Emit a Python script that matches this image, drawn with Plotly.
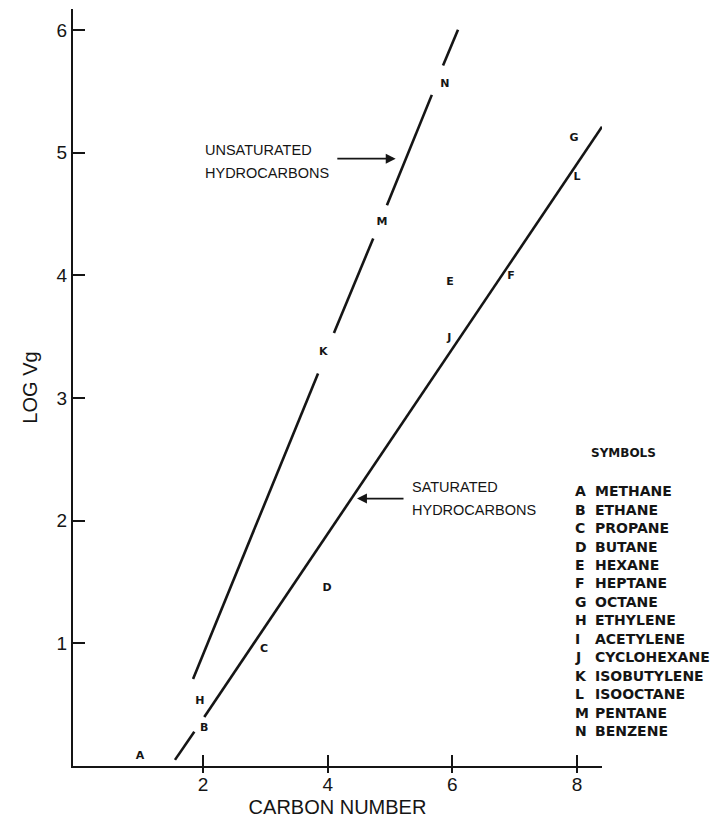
import plotly.graph_objects as go

# Compound symbols and where each letter sits (carbon number, log Vg)
symbols = ["A", "B", "C", "D", "E", "F", "G", "H", "J", "K", "L", "M", "N"]
carbon = [0.99, 2.02, 2.98, 3.99, 5.96, 6.94, 7.95, 1.95, 5.95, 3.93, 8.00, 4.87, 5.88]
log_vg = [0.08, 0.31, 0.95, 1.45, 3.94, 3.99, 5.12, 0.53, 3.49, 3.37, 4.80, 4.43, 5.56]

# Saturated hydrocarbons trend line (broken around label B)
sat_x = [1.55, 1.86, None, 2.02, 8.40]
sat_y = [0.05, 0.28, None, 0.40, 5.21]

# Unsaturated hydrocarbons trend line (broken around labels K, M, N)
unsat_x = [1.84, 3.845, None, 4.10, 4.73, None, 4.95, 5.67, None, 5.85, 6.09]
unsat_y = [0.71, 3.20, None, 3.53, 4.30, None, 4.57, 5.47, None, 5.71, 6.00]

# Key
key_letters = ["A", "B", "C", "D", "E", "F", "G", "H", "I", "J", "K", "L", "M", "N"]
key_names = ["METHANE", "ETHANE", "PROPANE", "BUTANE", "HEXANE", "HEPTANE", "OCTANE",
             "ETHYLENE", "ACETYLENE", "CYCLOHEXANE", "ISOBUTYLENE", "ISOOCTANE",
             "PENTANE", "BENZENE"]

x_ticks = [2, 4, 6, 8]
y_ticks = [1, 2, 3, 4, 5, 6]
x_range = [-0.086, 8.40]
y_range = [0, 6.17]

INK = "#151515"
SANS = "Liberation Sans, Arial, sans-serif"
BOLD = "DejaVu Sans, sans-serif"

fig = go.Figure()

fig.add_trace(go.Scatter(x=sat_x, y=sat_y, mode="lines",
                         line=dict(color=INK, width=2.6), hoverinfo="skip"))
fig.add_trace(go.Scatter(x=unsat_x, y=unsat_y, mode="lines",
                         line=dict(color=INK, width=2.6), hoverinfo="skip"))
fig.add_trace(go.Scatter(x=carbon, y=log_vg, mode="text", text=symbols,
                         textposition="middle center",
                         textfont=dict(family=BOLD, size=11, color=INK, weight="bold"),
                         hoverinfo="skip"))
# invisible trace that keeps the second (tick-only) x axis alive
fig.add_trace(go.Scatter(x=[x_range[0]], y=[0], mode="markers",
                         marker=dict(opacity=0), xaxis="x2", hoverinfo="skip"))

annotations = []

# Pointer labels
annotations.append(dict(x=5.09, y=4.95, ax=4.13, ay=4.95, xref="x", yref="y",
                        axref="x", ayref="y", text="", showarrow=True,
                        arrowhead=2, arrowsize=1.1, arrowwidth=1.8, arrowcolor=INK))
annotations.append(dict(x=4.47, y=2.18, ax=5.24, ay=2.18, xref="x", yref="y",
                        axref="x", ayref="y", text="", showarrow=True,
                        arrowhead=2, arrowsize=1.1, arrowwidth=1.8, arrowcolor=INK))
for txt, x, y in [("UNSATURATED", 2.0, 5.02), ("HYDROCARBONS", 2.0, 4.83),
                  ("SATURATED", 5.32, 2.27), ("HYDROCARBONS", 5.32, 2.09)]:
    annotations.append(dict(x=x, y=y, xref="x", yref="y", text=txt, showarrow=False,
                            xanchor="left", yanchor="middle",
                            font=dict(family=SANS, size=14.5, color=INK)))

# Key block (placed in paper units, it sits right of the plotted range)
annotations.append(dict(x=1.0397, y=0.4135, xref="paper", yref="paper", text="SYMBOLS",
                        showarrow=False, xanchor="center", yanchor="middle",
                        font=dict(family=BOLD, size=12, color=INK, weight="bold")))
row_px = 18.46 / 122.67
for i, (let, name) in enumerate(zip(key_letters, key_names)):
    yy = 2.24 - i * row_px
    annotations.append(dict(x=7.94, y=yy, xref="x", yref="y", text=let,
                            showarrow=False, xanchor="left", yanchor="middle",
                            font=dict(family=BOLD, size=14, color=INK, weight="bold")))
    annotations.append(dict(x=8.26, y=yy, xref="x", yref="y", text=name,
                            showarrow=False, xanchor="left", yanchor="middle",
                            font=dict(family=BOLD, size=14, color=INK, weight="bold")))

fig.update_layout(
    width=721, height=828,
    margin=dict(l=73, r=119, t=9, b=62),
    paper_bgcolor="white", plot_bgcolor="white",
    showlegend=False,
    annotations=annotations,
    xaxis=dict(range=x_range, tickvals=x_ticks, ticks="inside", ticklen=11,
               tickwidth=1.6, tickcolor=INK, showline=True, linecolor=INK,
               linewidth=2, showgrid=False, zeroline=False,
               tickfont=dict(family=SANS, size=19, color=INK),
               title=dict(text="CARBON NUMBER", standoff=6,
                          font=dict(family=SANS, size=20, color=INK))),
    xaxis2=dict(range=x_range, tickvals=x_ticks, ticks="outside", ticklen=6,
                tickwidth=1.6, tickcolor=INK, overlaying="x", anchor="y",
                side="bottom", showline=False, showgrid=False, zeroline=False,
                showticklabels=False),
    yaxis=dict(range=y_range, tickvals=y_ticks, ticks="inside", ticklen=12,
               tickwidth=1.6, tickcolor=INK, showline=True, linecolor=INK,
               linewidth=2, showgrid=False, zeroline=False,
               tickfont=dict(family=SANS, size=19, color=INK),
               title=dict(text="LOG Vg", standoff=14,
                          font=dict(family=SANS, size=20, color=INK))),
)

fig.write_html("out.html")
